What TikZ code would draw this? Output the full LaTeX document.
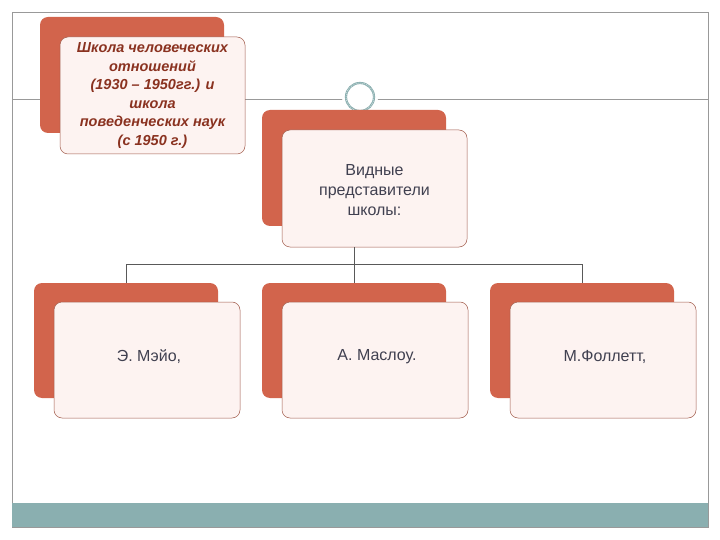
\documentclass[tikz,border=0pt]{standalone}
\usepackage{fontspec}
\setmainfont{Liberation Sans}
\definecolor{org}{HTML}{D2644C}
\definecolor{pinkf}{HTML}{FDF3F1}
\definecolor{bord}{HTML}{A05A4A}
\definecolor{teal}{HTML}{8AAFB0}
\definecolor{txtred}{HTML}{8A3220}
\definecolor{txt}{HTML}{404050}
\begin{document}
\begin{tikzpicture}[x=1pt,y=-1pt,
  back/.style={fill=org,rounded corners=8pt},
  front/.style={fill=pinkf,draw=bord,line width=0.5pt,rounded corners=8pt},
  lbl/.style={font=\fontsize{16}{20}\selectfont,align=center,text=txt},
  conn/.style={draw=gray!70!black,line width=0.6pt}]
\useasboundingbox (0,0) rectangle (720,540);
\draw[gray!80,line width=0.7pt] (12,12) rectangle (708,527);
\fill[teal] (12,503) rectangle (708,527);
\draw[gray!80,line width=0.7pt] (12,99) -- (708,99);
% top-left
\fill[back] (40,17) rectangle (224,133);
\draw[front] (60,37) rectangle (245,154);
\node[lbl,text=txtred,font=\fontsize{14.5}{18.5}\selectfont\bfseries\itshape] (tl) at (152.5,95.5) {Школа человеческих\\отношений\\(1930 – 1950гг.) и\\школа\\поведенческих наук\\(с 1950 г.)};
% circle
\fill[white] (360,97) circle (18);
\draw[teal,line width=2.2pt] (360,97) circle (14);
\draw[white,line width=0.4pt,dash pattern=on 1pt off 1pt] (360,97) circle (14);
% center
\fill[back] (262,110) rectangle (446,226);
\draw[front] (282,130) rectangle (467,247);
\node[lbl] (c) at (374.5,190) {Видные\\представители\\школы:};
\coordinate (cb) at (354,247);
\coordinate (cj) at (354,264);
% bottom boxes
\foreach \i/\x/\t in {a/34/{Э. Мэйо,}, b/262/{А. Маслоу.}, d/490/{М.Фоллетт,}}{
  \fill[back] (\x,283) rectangle (\x+184,398);
  \draw[front] (\x+20,302) rectangle (\x+206,418);
  \node[lbl] (\i) at (\x+115,357) {\t};
  \coordinate (\i t) at (\x+92,264);
  \coordinate (\i b) at (\x+92,283);
}
\draw[conn] (cb) -- (cj);
\draw[conn] (at) -- (dt);
\draw[conn] (at) -- (ab);
\draw[conn] (bt) -- (bb);
\draw[conn] (dt) -- (db);
\end{tikzpicture}
\end{document}
